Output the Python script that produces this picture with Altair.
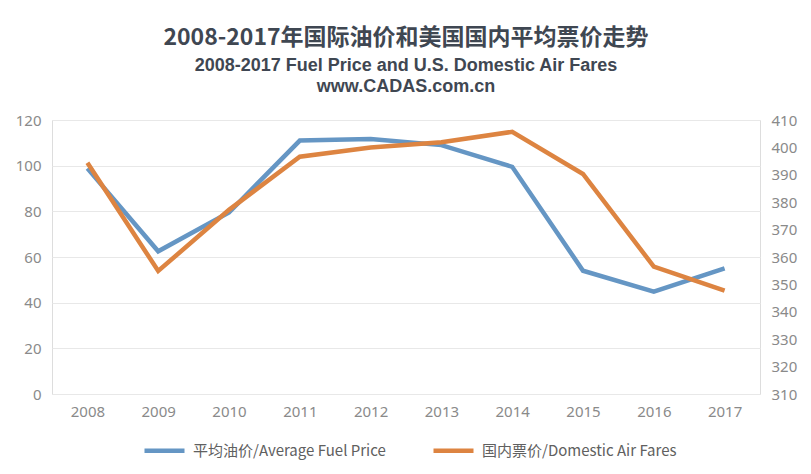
import altair as alt
import pandas as pd

years = ["2008", "2009", "2010", "2011", "2012", "2013", "2014", "2015", "2016", "2017"]
fuel_price = [98.8, 62.5, 79.5, 111.0, 111.7, 109.0, 99.5, 54.0, 44.8, 55.0]
air_fares = [394.4, 354.9, 377.2, 396.6, 400.0, 401.9, 405.7, 390.3, 356.5, 347.7]
series_names = ["平均油价/Average Fuel Price", "国内票价/Domestic Air Fares"]
left_ticks = [0, 20, 40, 60, 80, 100, 120]
right_ticks = [310, 320, 330, 340, 350, 360, 370, 380, 390, 400, 410]

BLUE = "#6596c4"
ORANGE = "#dd8441"
LABEL = "#8a8a8a"

df_fuel = pd.DataFrame({"year": years, "value": fuel_price, "series": series_names[0]})
df_fare = pd.DataFrame({"year": years, "value": air_fares, "series": series_names[1]})

x_enc = alt.X(
    "year:O",
    sort=years,
    scale=alt.Scale(type="point", padding=0.5),
    axis=alt.Axis(title=None, labelAngle=0, ticks=False, domain=False, grid=False,
                  labelPadding=10, labelFontSize=15, labelColor=LABEL, labelFont="Noto Sans"),
)

color_enc = alt.Color(
    "series:N",
    scale=alt.Scale(domain=series_names, range=[BLUE, ORANGE]),
    legend=alt.Legend(
        title=None, orient="none", direction="horizontal", legendX=90, legendY=308,
        symbolType="stroke", symbolSize=1600, symbolStrokeWidth=4.5,
        labelFontSize=15, labelColor="#606060", labelFont="Noto Sans CJK SC",
        labelLimit=400, columnPadding=38, labelOffset=6, padding=0,
    ),
)

fuel_line = alt.Chart(df_fuel).mark_line(strokeWidth=4.5).encode(
    x=x_enc,
    y=alt.Y("value:Q", scale=alt.Scale(domain=[0, 120], nice=False, zero=False),
            axis=alt.Axis(title=None, values=left_ticks, grid=True, gridColor="#e8e8e8",
                          ticks=False, domain=False, labelPadding=11, labelFontSize=15,
                          labelColor=LABEL, labelFont="Noto Sans")),
    color=color_enc,
)

fare_line = alt.Chart(df_fare).mark_line(strokeWidth=4.5).encode(
    x=x_enc,
    y=alt.Y("value:Q", scale=alt.Scale(domain=[310, 410], nice=False, zero=False),
            axis=alt.Axis(title=None, orient="right", values=right_ticks, grid=False,
                          ticks=False, domain=False, labelPadding=11, labelFontSize=15,
                          labelColor=LABEL, labelFont="Noto Sans")),
    color=color_enc,
)

chart = alt.layer(fuel_line, fare_line).resolve_scale(y="independent").properties(
    width=708,
    height=274,
    autosize=alt.AutoSizeParams(type="none"),
    padding={"left": 44, "top": 112, "right": 43, "bottom": 78},
    title=alt.TitleParams(
        text="2008-2017年国际油价和美国国内平均票价走势",
        subtitle=["2008-2017 Fuel Price and U.S. Domestic Air Fares", "www.CADAS.com.cn"],
        font="Noto Sans CJK SC", fontSize=23, fontWeight="bold", color="#3f4752",
        subtitleFont="Liberation Sans", subtitleFontSize=18, subtitleFontWeight="bold",
        subtitleColor="#3f4752", subtitlePadding=7, subtitleLineHeight=21,
        anchor="middle", offset=17,
    ),
).configure_view(stroke=None).configure(background="white")

chart.save("out.html", embed_options={"renderer": "svg", "actions": False})
